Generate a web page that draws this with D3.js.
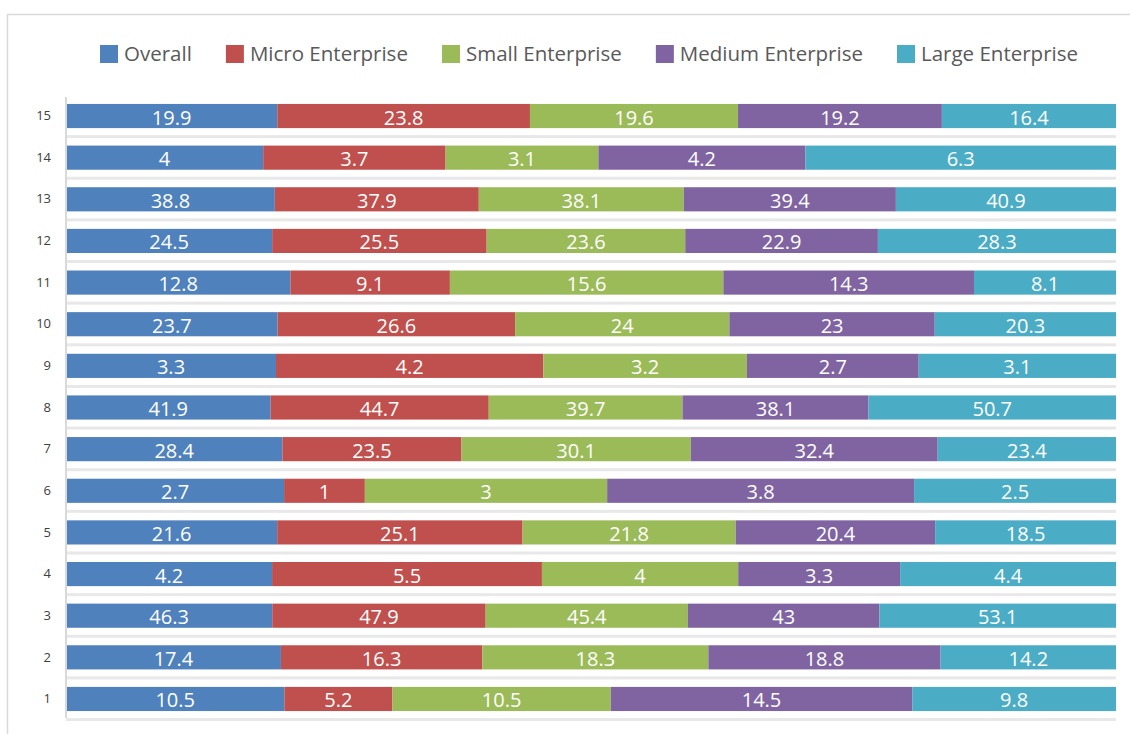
<!DOCTYPE html>
<html><head><meta charset="utf-8">
<script src="https://cdn.jsdelivr.net/npm/d3@7"></script>
<style>
html,body{margin:0;padding:0;background:#fff;overflow:hidden;}
svg{display:block;}
</style></head>
<body>
<svg id="chart" width="1130" height="734"></svg>
<script>
const categories = ["1","2","3","4","5","6","7","8","9","10","11","12","13","14","15"];
const seriesNames = ["Overall","Micro Enterprise","Small Enterprise","Medium Enterprise","Large Enterprise"];
const overall = [10.5,17.4,46.3,4.2,21.6,2.7,28.4,41.9,3.3,23.7,12.8,24.5,38.8,4,19.9];
const micro   = [5.2,16.3,47.9,5.5,25.1,1,23.5,44.7,4.2,26.6,9.1,25.5,37.9,3.7,23.8];
const small   = [10.5,18.3,45.4,4,21.8,3,30.1,39.7,3.2,24,15.6,23.6,38.1,3.1,19.6];
const medium  = [14.5,18.8,43,3.3,20.4,3.8,32.4,38.1,2.7,23,14.3,22.9,39.4,4.2,19.2];
const large   = [9.8,14.2,53.1,4.4,18.5,2.5,23.4,50.7,3.1,20.3,8.1,28.3,40.9,6.3,16.4];
const colors  = ["#4F81BD","#C0504D","#9BBB59","#8064A2","#4BACC6"];

(function(){
const seriesValues = [overall, micro, small, medium, large];
const keys = seriesNames;
const table = categories.map((c,i)=>{
  const row = {cat:c};
  keys.forEach((k,j)=>row[k]=seriesValues[j][i]);
  return row;
});

const svg = d3.select("#chart");
const font = "'Open Sans', 'Noto Sans', sans-serif";

// outer border
svg.append("rect").attr("x",7.5).attr("y",14.5).attr("width",1200).attr("height",800)
  .attr("fill","none").attr("stroke","#d9d9d9").attr("stroke-width",1.5);

const pl = 66, pr = 1116, pt = 95.2, pb = 719.8;

const x = d3.scaleLinear().domain([0,1]).range([pl,pr]);
const y = d3.scaleBand().domain(categories.slice().reverse()).range([pt,pb])
  .paddingInner(0.42).paddingOuter(0.21);

const stacked = d3.stack().keys(keys).offset(d3.stackOffsetExpand)(table);

// light shadow strips under each bar
svg.append("g").selectAll("rect").data(categories).join("rect")
  .attr("x",pl).attr("width",pr-pl)
  .attr("y",d=>y(d)+y.bandwidth()+7).attr("height",3)
  .attr("fill","#e8e8e8");

const groups = svg.append("g").selectAll("g").data(stacked).join("g")
  .attr("fill",(d,i)=>colors[i]);

groups.selectAll("rect").data(d=>d).join("rect")
  .attr("x",d=>x(d[0]))
  .attr("width",d=>x(d[1])-x(d[0]))
  .attr("y",d=>y(d.data.cat))
  .attr("height",y.bandwidth());

// labels
stacked.forEach((s,si)=>{
  svg.append("g").selectAll("text").data(s).join("text")
    .attr("x",d=>(x(d[0])+x(d[1]))/2)
    .attr("y",d=>y(d.data.cat)+y.bandwidth()/2+1)
    .attr("text-anchor","middle")
    .attr("dominant-baseline","central")
    .attr("fill","#fff")
    .attr("font-family",font)
    .attr("font-size",20)
    .text(d=>d.data[s.key]);
});

// y axis
const yAxis = d3.axisLeft(y).tickSize(0).tickPadding(15);
const ag = svg.append("g").attr("transform",`translate(${pl},0)`).call(yAxis);
ag.select(".domain").attr("stroke","#d9d9d9").attr("stroke-width",2)
  .attr("d",`M0,97V718`);
ag.selectAll("text").attr("font-family",font).attr("font-size",13).attr("fill","#404040");

// legend
const lg = svg.append("g");
const items = [];
seriesNames.forEach((n,i)=>{
  const g = lg.append("g");
  g.append("rect").attr("x",0).attr("y",0).attr("width",18).attr("height",18).attr("fill",colors[i]);
  const t = g.append("text").attr("x",24).attr("y",8).attr("dominant-baseline","central")
    .attr("font-family",font).attr("font-size",20.5).attr("fill","#595959").text(n);
  const w = 24 + t.node().getComputedTextLength();
  items.push({g,w});
});
const lStart = 100, lEnd = 1078;
const gap = (lEnd - lStart - d3.sum(items,d=>d.w))/(items.length-1);
let lx = lStart;
items.forEach(it=>{
  it.g.attr("transform",`translate(${lx},45)`);
  lx += it.w + gap;
});
})();
</script>
</body></html>
